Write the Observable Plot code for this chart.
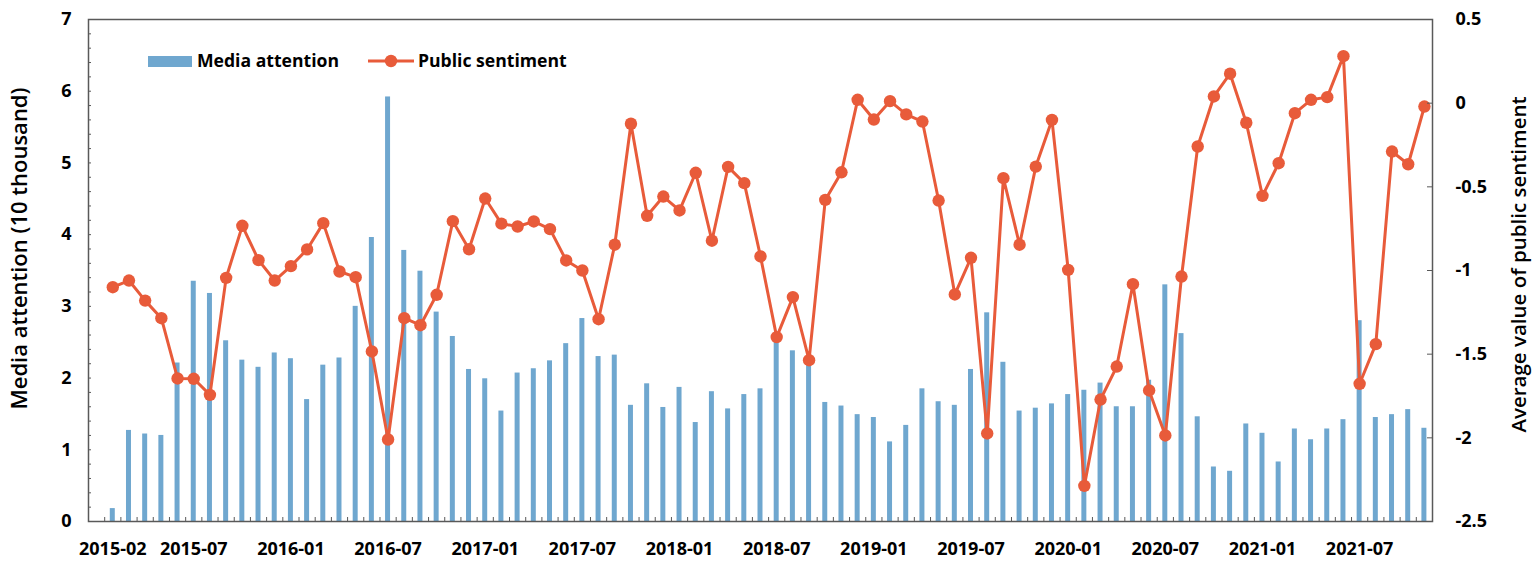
<!DOCTYPE html>
<html>
<head>
<meta charset="utf-8">
<script src="https://cdn.jsdelivr.net/npm/d3@7"></script>
<script src="https://cdn.jsdelivr.net/npm/@observablehq/plot@0.6"></script>
<style>
  html, body { margin: 0; padding: 0; background: #fff; }
  #chart svg { display: block; }
</style>
</head>
<body>
<div id="chart"></div>
<script>
// ---- data ----
const months = [
  "2015-02","2015-03","2015-04","2015-05","2015-06","2015-07","2015-08","2015-09","2015-10","2015-11","2015-12",
  "2016-01","2016-02","2016-03","2016-04","2016-05","2016-06","2016-07","2016-08","2016-09","2016-10","2016-11","2016-12",
  "2017-01","2017-02","2017-03","2017-04","2017-05","2017-06","2017-07","2017-08","2017-09","2017-10","2017-11","2017-12",
  "2018-01","2018-02","2018-03","2018-04","2018-05","2018-06","2018-07","2018-08","2018-09","2018-10","2018-11","2018-12",
  "2019-01","2019-02","2019-03","2019-04","2019-05","2019-06","2019-07","2019-08","2019-09","2019-10","2019-11","2019-12",
  "2020-01","2020-02","2020-03","2020-04","2020-05","2020-06","2020-07","2020-08","2020-09","2020-10","2020-11","2020-12",
  "2021-01","2021-02","2021-03","2021-04","2021-05","2021-06","2021-07","2021-08","2021-09","2021-10","2021-11"
];
// Media attention (10 thousand)
const mediaAttention = [
  0.18,1.27,1.22,1.20,2.21,3.35,3.18,2.52,2.25,2.15,2.35,
  2.27,1.70,2.18,2.28,3.00,3.96,5.92,3.78,3.49,2.92,2.58,2.12,
  1.99,1.54,2.07,2.13,2.24,2.48,2.83,2.30,2.32,1.62,1.92,1.59,
  1.87,1.38,1.81,1.57,1.77,1.85,2.62,2.38,2.28,1.66,1.61,1.49,
  1.45,1.11,1.34,1.85,1.67,1.62,2.12,2.91,2.22,1.54,1.58,1.64,
  1.77,1.83,1.93,1.60,1.60,1.97,3.30,2.62,1.46,0.76,0.70,1.36,
  1.23,0.83,1.29,1.14,1.29,1.42,2.80,1.45,1.49,1.56,1.30
];
// Average value of public sentiment
const publicSentiment = [
  -1.10,-1.06,-1.18,-1.285,-1.645,-1.647,-1.743,-1.044,-0.733,-0.938,-1.06,
  -0.974,-0.874,-0.717,-1.006,-1.04,-1.484,-2.01,-1.285,-1.327,-1.145,-0.705,-0.873,
  -0.57,-0.72,-0.737,-0.707,-0.753,-0.94,-1.00,-1.291,-0.846,-0.123,-0.673,-0.558,
  -0.641,-0.416,-0.822,-0.381,-0.478,-0.916,-1.398,-1.159,-1.536,-0.578,-0.413,0.02,
  -0.098,0.012,-0.067,-0.11,-0.582,-1.143,-0.924,-1.974,-0.448,-0.846,-0.379,-0.10,
  -0.996,-2.287,-1.771,-1.574,-1.082,-1.717,-1.986,-1.036,-0.259,0.04,0.176,-0.117,
  -0.554,-0.359,-0.06,0.02,0.036,0.281,-1.677,-1.44,-0.289,-0.365,-0.02
];
const xTickLabels = ["2015-02","2015-07","2016-01","2016-07","2017-01","2017-07","2018-01","2018-07","2019-01","2019-07","2020-01","2020-07","2021-01","2021-07"];
const leftTicks = [0,1,2,3,4,5,6,7];
const rightTicks = [-2.5,-2,-1.5,-1,-0.5,0,0.5];

// ---- config ----
const W = 1534, H = 565;
const mL = 88, mR = 102, mT = 19, mB = 44;
const plotW = W - mL - mR, plotH = H - mT - mB;
const BLUE = "#6FA7CF", ORANGE = "#E85B3A", AXIS = "#595959";
const FONT = "'Open Sans', 'Noto Sans', sans-serif";
const L_MIN = 0, L_MAX = 7, S_MIN = -2.5, S_MAX = 0.5;
// axis starts one empty month slot before the first data month (2015-01)
const slot = m => { const [y, mo] = m.split("-").map(Number); return (y - 2015) * 12 + (mo - 1); };
const nSlots = slot(months[months.length - 1]) + 1;
const toLeft = s => (s - S_MIN) / (S_MAX - S_MIN) * (L_MAX - L_MIN) + L_MIN;

const data = months.map((m, i) => ({month: m, i: slot(m), media: mediaAttention[i], sentiment: publicSentiment[i]}));

const chart = Plot.plot({
  width: W, height: H,
  marginLeft: mL, marginRight: mR, marginTop: mT, marginBottom: mB,
  style: {fontFamily: FONT, background: "#fff", overflow: "visible"},
  x: {domain: [0, nSlots], axis: null},
  y: {domain: [L_MIN, L_MAX], axis: null},
  marks: [
    Plot.rectY(data, {x1: d => d.i, x2: d => d.i + 1, y: "media", insetLeft: 5.6, insetRight: 5.6, fill: BLUE}),
    Plot.line(data, {x: d => d.i + 0.5, y: d => toLeft(d.sentiment), stroke: ORANGE, strokeWidth: 3}),
    Plot.dot(data, {x: d => d.i + 0.5, y: d => toLeft(d.sentiment), r: 6.2, fill: ORANGE, stroke: "none"}),
    Plot.frame({stroke: AXIS, strokeWidth: 1.5}),
    // x month ticks (inward)
    Plot.tickX(d3.range(0, nSlots + 1), {x: d => d, insetTop: plotH - 4, stroke: AXIS, strokeWidth: 1}),
    Plot.text(xTickLabels, {x: d => slot(d) + 0.5, frameAnchor: "bottom", dy: 28, text: d => d,
      fontSize: 18, fontWeight: "bold", fill: "#000", lineAnchor: "middle", textAnchor: "middle"}),
    // left y ticks
    Plot.tickY(d3.range(0, 36).map(k => k / 5), {y: d => d, insetRight: plotW - 3, stroke: AXIS, strokeWidth: 1}),
    Plot.text(leftTicks, {y: d => d, frameAnchor: "left", dx: -17, textAnchor: "end", text: d => String(d),
      fontSize: 18, fontWeight: "bold", fill: "#000"}),
    // right y ticks
    Plot.tickY(rightTicks, {y: d => toLeft(d), insetLeft: plotW - 5, stroke: AXIS, strokeWidth: 1}),
    Plot.text(rightTicks, {y: d => toLeft(d), frameAnchor: "right", dx: 23, textAnchor: "start", text: d => String(d),
      fontSize: 18, fontWeight: "bold", fill: "#000"}),
    // axis titles
    Plot.text(["Media attention (10 thousand)"], {frameAnchor: "left", dx: -69, dy: -22, rotate: -90,
      textAnchor: "middle", lineAnchor: "middle", fontSize: 22, fontWeight: 600, fill: "#000"}),
    Plot.text(["Average value of public sentiment"], {frameAnchor: "right", dx: 87, dy: -6, rotate: -90,
      textAnchor: "middle", lineAnchor: "middle", fontSize: 20.5, fontWeight: 600, fill: "#000"})
  ]
});

// legend (inside the plot, top-left)
const svg = d3.select(chart);
const lg = svg.append("g").attr("font-family", FONT).attr("font-weight", "bold").attr("font-size", 17.6)
  .attr("fill", "#000").attr("text-anchor", "start");
lg.append("rect").attr("x", 148).attr("y", 56).attr("width", 44).attr("height", 11).attr("fill", BLUE);
lg.append("text").attr("x", 197).attr("y", 61).attr("dy", "0.35em").attr("text-anchor", "start").text("Media attention");
lg.append("line").attr("x1", 368).attr("x2", 414).attr("y1", 61).attr("y2", 61).attr("stroke", ORANGE).attr("stroke-width", 3);
lg.append("circle").attr("cx", 391).attr("cy", 61).attr("r", 6.2).attr("fill", ORANGE);
lg.append("text").attr("x", 418).attr("y", 61).attr("dy", "0.35em").attr("text-anchor", "start").text("Public sentiment");

document.getElementById("chart").appendChild(chart);
</script>
</body>
</html>
